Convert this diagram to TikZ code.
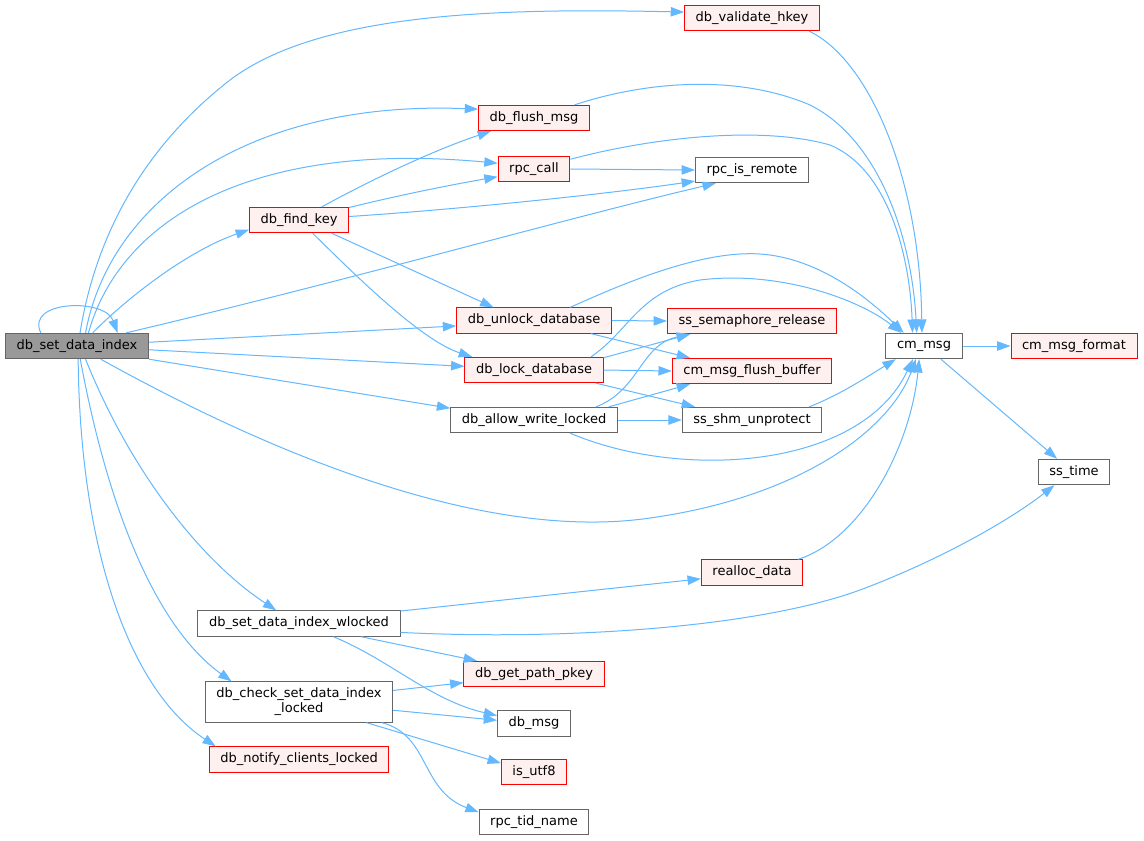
\documentclass[tikz,border=0pt]{standalone}
\usepackage{fontspec}
\setmainfont{DejaVu Sans}
\usetikzlibrary{arrows.meta}
\definecolor{callblue}{HTML}{63B8FF}
\definecolor{truncfill}{HTML}{FFF0F0}
\definecolor{rootfill}{HTML}{999999}
\definecolor{boxline}{HTML}{666666}

\begin{document}
\begin{tikzpicture}[x=0.75pt,y=-0.75pt,
  fn/.style={draw=boxline,fill=white,line width=0.75pt,minimum height=19pt,inner xsep=8.3pt,inner ysep=2pt,font=\fontsize{9.75}{11.25}\selectfont},
  rootfn/.style={fn,fill=rootfill},
  trunc/.style={fn,draw=red,fill=truncfill},
  call/.style={draw=callblue,line width=0.75pt,-{Triangle[length=10pt,width=7pt]}}]
    \path[use as bounding box,fill=white] (0,0) rectangle (1144,840);

    \node[rootfn] (setidx) at (77,346) {db\_set\_data\_index};

    \node[trunc] (findkey) at (299,220) {db\_find\_key};
    \node[fn] (wlocked) at (299,623.5) {db\_set\_data\_index\_wlocked};
    \node[fn,align=center,inner ysep=4.6pt] (checkidx) at (299,702) {db\_check\_set\_data\_index\\\_locked};
    \node[trunc] (notify) at (299,759.5) {db\_notify\_clients\_locked};

    \node[trunc] (flush) at (534,118) {db\_flush\_msg};
    \node[trunc] (rpccall) at (534,169) {rpc\_call};
    \node[trunc] (unlock) at (534,320.5) {db\_unlock\_database};
    \node[trunc] (lock) at (534,370) {db\_lock\_database};
    \node[fn] (allow) at (534,420) {db\_allow\_write\_locked};
    \node[trunc] (pathkey) at (534,674) {db\_get\_path\_pkey};
    \node[fn] (dbmsg) at (534,723.5) {db\_msg};
    \node[trunc] (utf8) at (534,772) {is\_utf8};
    \node[fn] (tidname) at (534,822) {rpc\_tid\_name};

    \node[trunc] (validate) at (752,18) {db\_validate\_hkey};
    \node[fn] (remote) at (752,170) {rpc\_is\_remote};
    \node[trunc] (semrel) at (752,321) {ss\_semaphore\_release};
    \node[trunc] (flushbuf) at (752,371) {cm\_msg\_flush\_buffer};
    \node[fn] (unprotect) at (752,420) {ss\_shm\_unprotect};
    \node[trunc] (realloc) at (752,572.5) {realloc\_data};

    \node[fn] (cmmsg) at (924,346) {cm\_msg};
    \node[trunc] (fmt) at (1074,346) {cm\_msg\_format};
    \node[fn] (sstime) at (1074,472) {ss\_time};

    \draw[call] (setidx.160) .. controls (25,300) and (105,298) .. (setidx.18);
    \draw[call] (setidx.77) .. controls (95,240) and (140,150) .. (230,80) .. controls (320,12) and (500,8) .. (validate.175);
    \draw[call] (setidx.57) .. controls (110,200) and (250,100) .. (flush.171);
    \draw[call] (setidx.49) .. controls (120,220) and (250,140) .. (rpccall.171);
    \draw[call] (setidx.40) .. controls (130,295) and (190,250) .. (findkey.191);
    \draw[call] (setidx.15) .. controls (350,280) and (560,220) .. (remote.200);
    \draw[call] (setidx.3) -- (unlock.184);
    \draw[call] (setidx.357) -- (lock.177);
    \draw[call] (setidx.south east) -- (allow.172);
    \draw[call] (setidx.331) .. controls (300,470) and (500,540) .. (650,518) .. controls (800,497) and (890,430) .. (cmmsg.238);
    \draw[call] (setidx.303) .. controls (130,470) and (200,560) .. (wlocked.150);
    \draw[call] (setidx.284) .. controls (110,520) and (160,630) .. (checkidx.163);
    \draw[call] (setidx.275) .. controls (80,550) and (130,690) .. (notify.171);

    \draw[call] (findkey.30) .. controls (380,175) and (440,148) .. (flush.197);
    \draw[call] (findkey.14) .. controls (400,195) and (450,185) .. (rpccall.192);
    \draw[call] (findkey.4) .. controls (450,210) and (600,195) .. (remote.191);
    \draw[call] (findkey.338) -- (unlock.162);
    \draw[call] (findkey.316) .. controls (350,270) and (420,340) .. (lock.168);

    \draw[call] (flush.18) .. controls (650,80) and (740,75) .. (810,105) .. controls (880,140) and (912,240) .. (cmmsg.119);
    \draw[call] (validate.347) .. controls (870,60) and (920,180) .. (cmmsg.99);
    \draw[call] (rpccall.15) .. controls (650,138) and (760,125) .. (830,145) .. controls (890,170) and (910,260) .. (cmmsg.131);
    \draw[call] (rpccall.east) -- (remote.west);

    \draw[call] (unlock.20) .. controls (620,285) and (700,250) .. (760,254) .. controls (820,258) and (870,300) .. (cmmsg.147);
    \draw[call] (unlock.east) -- (semrel.west);
    \draw[call] (unlock.347) -- (flushbuf.168);

    \draw[call] (lock.13) .. controls (630,330) and (640,290) .. (700,280) .. controls (780,270) and (860,300) .. (cmmsg.150);
    \draw[call] (lock.10) -- (semrel.192);
    \draw[call] (lock.east) -- (flushbuf.west);
    \draw[call] (lock.348) -- (unprotect.167);

    \draw[call] (allow.12) .. controls (640,390) and (640,345) .. (semrel.192);
    \draw[call] (allow.10) -- (flushbuf.192);
    \draw[call] (allow.east) -- (unprotect.west);
    \draw[call] (allow.340) .. controls (680,480) and (860,470) .. (cmmsg.230);

    \draw[call] (unprotect.13) .. controls (840,395) and (870,375) .. (cmmsg.205);
    \draw[call] (realloc.16) .. controls (860,540) and (910,450) .. (cmmsg.250);
    \draw[call] (cmmsg.east) -- (fmt.west);
    \draw[call] (cmmsg.322) -- (sstime.142);

    \draw[call] (wlocked.7) -- (realloc.187);
    \draw[call] (wlocked.355) .. controls (550,640) and (750,630) .. (860,590) .. controls (940,560) and (1010,520) .. (sstime.214);
    \draw[call] (wlocked.348) -- (pathkey.167);
    \draw[call] (wlocked.339) .. controls (390,660) and (430,700) .. (dbmsg.168);

    \draw[call] (checkidx.7) -- (pathkey.187);
    \draw[call] (checkidx.355) -- (dbmsg.175);
    \draw[call] (checkidx.343) -- (utf8.165);
    \draw[call] (checkidx.346) .. controls (430,735) and (420,790) .. (tidname.170);
\end{tikzpicture}
\end{document}
